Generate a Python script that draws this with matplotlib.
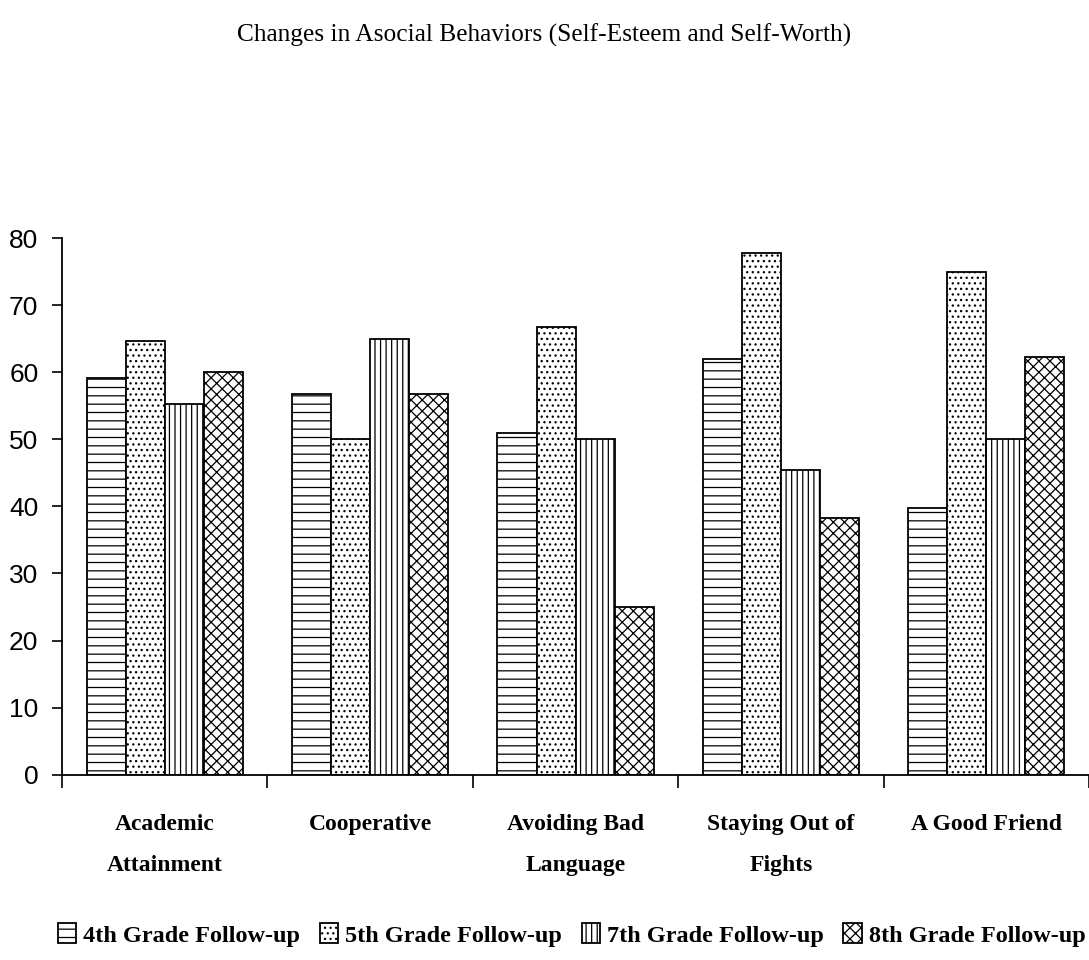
import numpy as np
import matplotlib
matplotlib.use("Agg")
import matplotlib.pyplot as plt

# data
categories = ["Academic\nAttainment", "Cooperative", "Avoiding Bad\nLanguage",
              "Staying Out of\nFights", "A Good Friend"]
series = ["4th Grade Follow-up", "5th Grade Follow-up",
          "7th Grade Follow-up", "8th Grade Follow-up"]
grade4 = [59.2, 56.7, 51.0, 62.0, 39.8]
grade5 = [64.7, 50.0, 66.7, 77.8, 75.0]
grade7 = [55.3, 65.0, 50.0, 45.5, 50.0]
grade8 = [60.0, 56.7, 25.0, 38.3, 62.3]
yticks = [0, 10, 20, 30, 40, 50, 60, 70, 80]

values = [grade4, grade5, grade7, grade8]
hatches = ["--", "...", "|||", "xxx"]

plt.rcParams["hatch.linewidth"] = 0.9

fig = plt.figure(figsize=(10.89, 9.6), dpi=100)
ax = fig.add_axes([0.057, 0.193, 0.943, 0.559])

x = np.arange(len(categories))
w = 0.19
for i, (vals, h, name) in enumerate(zip(values, hatches, series)):
    ax.bar(x + (i - 1.5) * w, vals, width=w, color="white", edgecolor="black",
           hatch=h, linewidth=1.3, label=name)

ax.set_xlim(-0.5, len(categories) - 0.5)
ax.set_ylim(0, 80)
ax.set_yticks(yticks)
ax.set_yticklabels([str(t) for t in yticks], fontsize=19, family="Liberation Sans")
ax.tick_params(axis="y", direction="out", length=7, width=1.2, pad=10)

# category labels between boundary ticks
ax.set_xticks(x)
ax.set_xticklabels(categories, fontsize=17, family="Liberation Serif",
                   fontweight="bold", linespacing=2.3)
ax.tick_params(axis="x", which="major", length=0, pad=28)
ax.set_xticks(np.arange(-0.5, len(categories) + 0.5, 1), minor=True)
ax.tick_params(axis="x", which="minor", direction="out", length=9, width=1.2)

ax.spines["top"].set_visible(False)
ax.spines["right"].set_visible(False)
ax.spines["left"].set_linewidth(1.3)
ax.spines["bottom"].set_linewidth(1.3)

fig.text(0.5, 0.963, "Changes in Asocial Behaviors (Self-Esteem and Self-Worth)",
         ha="center", va="center", fontsize=18.3, family="Liberation Serif")

fig.legend(loc="center", bbox_to_anchor=(0.525, 0.026), ncol=4, frameon=False,
           prop={"family": "Liberation Serif", "weight": "bold", "size": 17.5},
           handlelength=0.75, handleheight=0.9, handletextpad=0.3,
           columnspacing=0.8, borderpad=0)

fig.savefig("out.png", dpi=100)
